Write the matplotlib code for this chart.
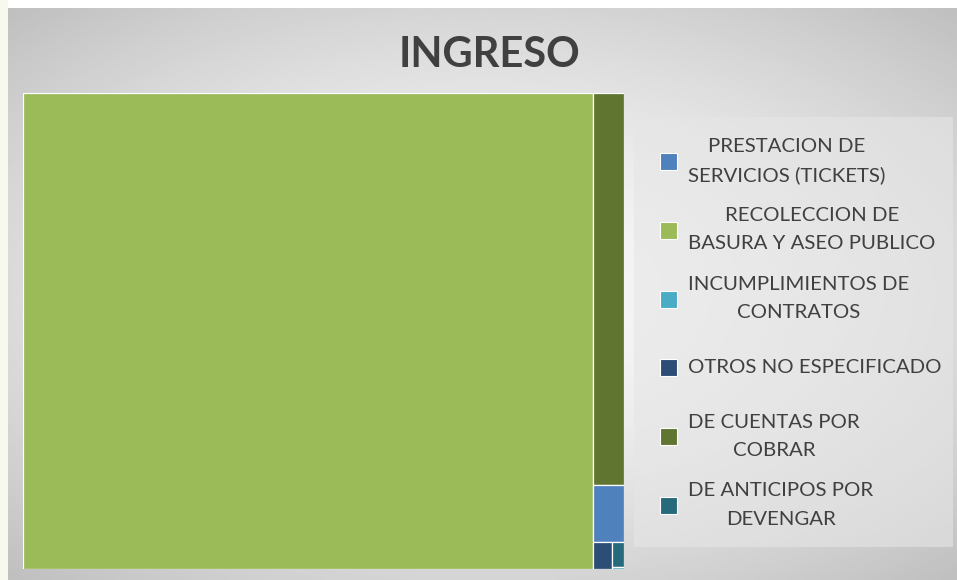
import numpy as np
import matplotlib
matplotlib.use("Agg")
import matplotlib.pyplot as plt
from matplotlib.patches import Rectangle

plt.rcParams['font.family'] = ['Lato', 'DejaVu Sans']

# datos del treemap (orden de la leyenda)
categorias = ["PRESTACION DE\nSERVICIOS (TICKETS)",
              "RECOLECCION DE\nBASURA Y ASEO PUBLICO",
              "INCUMPLIMIENTOS DE\nCONTRATOS",
              "OTROS NO ESPECIFICADO",
              "DE CUENTAS POR\nCOBRAR",
              "DE ANTICIPOS POR\nDEVENGAR"]
valores = [1767, 271320, 24, 513, 12152, 300]
colores = ["#4F81BD", "#9BBB59", "#4BACC6", "#2C4D75", "#5F7530", "#276A7C"]
titulo = "INGRESO"


def worst(row, length):
    s = sum(row)
    return max(max(length**2 * r / s**2, s**2 / (length**2 * r)) for r in row)


def squarify(vals, x, y, w, h):
    # squarified treemap, y hacia abajo
    total = sum(vals)
    areas = [v * w * h / total for v in vals]
    rects = []
    i = 0
    while i < len(areas):
        length = min(w, h)
        row = [areas[i]]
        j = i + 1
        while j < len(areas) and worst(row + [areas[j]], length) <= worst(row, length):
            row.append(areas[j])
            j += 1
        s = sum(row)
        if w >= h:          # columna a la izquierda, de arriba abajo
            cw = s / h
            yy = y
            for a in row:
                rects.append((x, yy, cw, a / cw))
                yy += a / cw
            x += cw
            w -= cw
        else:               # fila arriba, de izquierda a derecha
            rh = s / w
            xx = x
            for a in row:
                rects.append((xx, y, a / rh, rh))
                xx += a / rh
            y += rh
            h -= rh
        i = j
    return rects


W, H = 957, 580
fig = plt.figure(figsize=(W / 100, H / 100), dpi=100)
fig.patch.set_facecolor("white")
fig.add_artist(Rectangle((0, 0), 8 / W, 1, transform=fig.transFigure,
                         facecolor="#F7F9EE", edgecolor="none"))

# fondo con degradado radial
bg = fig.add_axes([8 / W, 0, 1 - 8 / W, 1 - 8 / H])
yy, xx = np.mgrid[-1:1:300j, -1:1:500j]
r = np.sqrt((xx * 0.95) ** 2 + (yy * 1.05) ** 2)
bg.imshow(0.975 - 0.13 * np.clip(r, 0, 1.4) ** 1.6, cmap="gray", vmin=0, vmax=1,
          aspect="auto", extent=[0, 1, 0, 1])
bg.set_axis_off()

# treemap
ax = fig.add_axes([23 / W, (H - 569) / H, 601 / W, 476 / H])
orden = sorted(range(len(valores)), key=lambda k: -valores[k])
rects = squarify([valores[k] for k in orden], 0, 0, 601, 476)
for k, (rx, ry, rw, rh) in zip(orden, rects):
    ax.add_patch(Rectangle((rx, ry), rw, rh, facecolor=colores[k],
                           edgecolor="white", linewidth=0.9))
ax.set_xlim(0, 601)
ax.set_ylim(476, 0)
ax.set_axis_off()

fig.text(490 / W, 1 - 55 / H, titulo, ha="center", va="center",
         fontsize=30, fontweight="bold", color="#404040")

# leyenda
lg = fig.add_axes([634 / W, (H - 547) / H, 319 / W, 430 / H])
lg.set_xlim(0, 319)
lg.set_ylim(430, 0)
lg.add_patch(Rectangle((0, 0), 319, 430, facecolor="#E6E6E6", alpha=0.6, edgecolor="none"))
for i, (cat, col) in enumerate(zip(categorias, colores)):
    cy = 44 + i * 68.8
    lg.add_patch(Rectangle((26, cy - 8), 17, 17, facecolor=col, edgecolor="white", linewidth=0.8))
    lg.text(54, cy, cat, ha="left", va="center", multialignment="center",
            fontsize=14.7, color="#404040", linespacing=1.8)
lg.set_axis_off()

fig.savefig("out.png", dpi=100)
